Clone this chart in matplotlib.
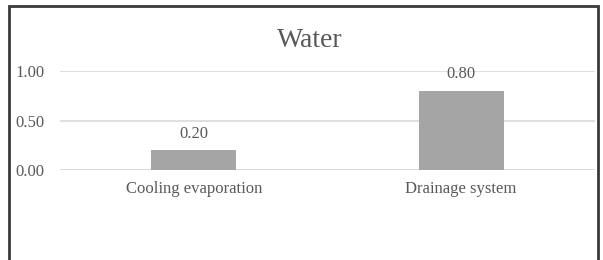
import matplotlib.pyplot as plt
from matplotlib.patches import Rectangle
import numpy as np

# data
categories = ["Cooling evaporation", "Drainage system"]
values = [0.20, 0.80]
tick_vals = [0.0, 0.5, 1.0]
tick_labels = ["0.00", "0.50", "1.00"]

plt.rcParams['font.family'] = ['Liberation Serif', 'DejaVu Serif']
txt = '#595959'

fig = plt.figure(figsize=(6.03, 2.6), dpi=100)
ax = fig.add_axes([0.0995, 0.346, 0.887, 0.381])

x = np.arange(len(categories))
bars = ax.bar(x, values, width=0.318, color='#a5a5a5', zorder=3)
ax.set_xlim(-0.5, 1.5)
ax.set_ylim(0, 1.0)
ax.set_yticks(tick_vals)
ax.set_yticklabels(tick_labels)
ax.set_xticks(x)
ax.set_xticklabels(categories)
ax.tick_params(length=0, colors=txt, labelsize=12)
ax.tick_params(axis='y', pad=11)
ax.tick_params(axis='x', pad=8)
ax.grid(axis='y', color='#d9d9d9', linewidth=1.2, zorder=0)
ax.set_axisbelow(True)
for s in ax.spines.values():
    s.set_visible(False)
ax.axhline(0, color='#d9d9d9', linewidth=1.2, zorder=1)

for b, v in zip(bars, values):
    ax.annotate("%.2f" % v, (b.get_x() + b.get_width() / 2, v), xytext=(0, 6),
                textcoords='offset points', ha='center', va='bottom',
                color=txt, fontsize=12)

fig.text(0.514, 0.845, "Water", ha='center', va='center', color=txt, fontsize=20)

# outer frame
fig.patches.append(Rectangle((9 / 603, -0.1), 589 / 603, 1.1 - 6 / 260,
                             transform=fig.transFigure, fill=False,
                             edgecolor='#3a3a3a', linewidth=2))

fig.savefig("out.png", dpi=100)
